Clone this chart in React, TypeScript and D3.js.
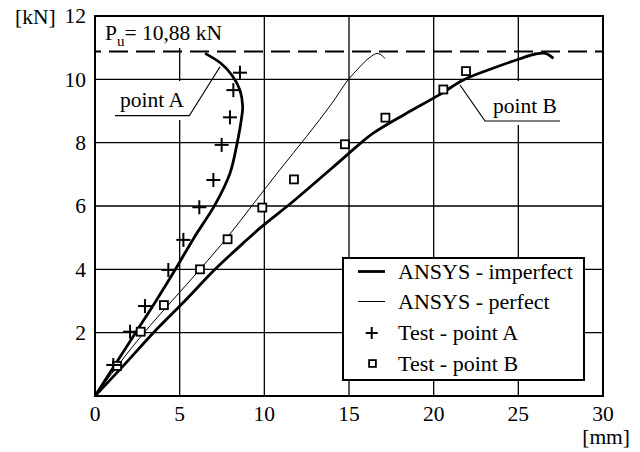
import React from "react";
import * as d3 from "d3";

// ---- data ----
const xTicks = [0, 5, 10, 15, 20, 25, 30];
const yTicks = [2, 4, 6, 8, 10, 12];
const xGrid = [5, 10, 15, 20, 25];
const yGrid = [2, 4, 6, 8, 10];
const ultimateLoad = 10.88;

// ANSYS - imperfect, point A branch
const impA_x = [0, 1.2, 2.4, 3.6, 4.75, 5.85, 7.1, 7.97, 8.4, 8.66, 8.72, 8.56, 8.1, 7.45, 6.5];
const impA_y = [0, 1.0, 2.0, 3.0, 4.0, 5.0, 6.05, 7.03, 8.0, 8.8, 9.15, 9.66, 10.12, 10.5, 10.82];

// ANSYS - imperfect, point B branch
const impB_x = [0, 1.75, 3.45, 5.3, 7.09, 8.9, 9.74, 11.8, 14.0, 15.5, 16.43, 18.3, 20.3, 21.75, 23.5, 25.1, 26.0, 26.6, 27.07];
const impB_y = [0, 1.0, 2.0, 3.0, 4.0, 4.9, 5.3, 6.19, 7.2, 7.9, 8.3, 8.9, 9.5, 9.98, 10.35, 10.65, 10.8, 10.82, 10.66];

// ANSYS - perfect
const perf_x = [0, 1.4, 2.9, 6.2, 7.8, 9.4, 11.0, 12.5, 14.0, 14.9, 15.65, 16.2, 16.7, 17.13];
const perf_y = [0, 1.0, 2.0, 4.0, 5.0, 6.1, 7.2, 8.2, 9.25, 9.95, 10.4, 10.68, 10.82, 10.66];

// Test - point A
const testA_x = [1.08, 2.07, 2.95, 4.33, 5.22, 6.16, 6.99, 7.48, 7.97, 8.17, 8.56];
const testA_y = [0.98, 2.03, 2.84, 3.98, 4.93, 5.96, 6.82, 7.93, 8.8, 9.66, 10.21];

// Test - point B
const testB_x = [1.3, 2.7, 4.07, 6.2, 7.83, 9.88, 11.75, 14.76, 17.15, 20.57, 21.91];
const testB_y = [0.95, 2.03, 2.87, 4.0, 4.95, 5.95, 6.84, 7.95, 8.79, 9.68, 10.26];

const legendLabels = ["ANSYS - imperfect", "ANSYS - perfect", "Test - point A", "Test - point B"];

const W = 640;
const H = 452;
const FONT = '"Liberation Serif", serif';

export default function App() {
  const x = d3.scaleLinear().domain([0, 30]).range([95, 603]);
  const y = d3.scaleLinear().domain([0, 12]).range([396, 16]);
  const line = d3
    .line<[number, number]>()
    .x((d) => x(d[0]))
    .y((d) => y(d[1]))
    .curve(d3.curveCatmullRom.alpha(0.5));

  const zip = (a: number[], b: number[]) => a.map((v, i) => [v, b[i]] as [number, number]);
  const pA = line(zip(impA_x, impA_y)) || "";
  const pB = line(zip(impB_x, impB_y)) || "";
  const pP = line(zip(perf_x, perf_y)) || "";

  const [x0, x1] = x.range();
  const [y0, y1] = y.range();
  const fs = 21.5;
  const ts = { fontFamily: FONT };

  const cross = (cx: number, cy: number, key: string | number, s = 7) => (
    <g key={key} stroke="#000" strokeWidth={2}>
      <line x1={cx - s} x2={cx + s} y1={cy} y2={cy} />
      <line x1={cx} x2={cx} y1={cy - s} y2={cy + s} />
    </g>
  );
  const square = (cx: number, cy: number, key: string | number, s = 4) => (
    <rect key={key} x={cx - s} y={cy - s} width={2 * s} height={2 * s} fill="#fff" stroke="#000" strokeWidth={1.8} />
  );

  const legX = 343, legY = 258, legW = 241, legH = 122;
  const rowsY = [271.5, 301.5, 333, 363.5];

  return (
    <svg
      width={W}
      height={H}
      viewBox={`0 0 ${W} ${H}`}
      style={{ position: "absolute", left: 0, top: 0, display: "block", background: "#fff", fontFamily: FONT }}
    >
      <rect x={0} y={0} width={W} height={H} fill="#fff" />
      {/* grid */}
      <g stroke="#000" strokeWidth={1.3}>
        {xGrid.map((v) => (
          <line key={"gx" + v} x1={x(v)} x2={x(v)} y1={y1} y2={y0} />
        ))}
        {yGrid.map((v) => (
          <line key={"gy" + v} x1={x0} x2={x1} y1={y(v)} y2={y(v)} />
        ))}
      </g>
      {/* label masks */}
      <rect x={97} y={17} width={135} height={31} fill="#fff" />
      <rect x={112} y={81} width={80} height={39} fill="#fff" />
      <rect x={483} y={81} width={80} height={44} fill="#fff" />
      {/* ultimate load */}
      <line
        x1={x0}
        x2={x1}
        y1={y(ultimateLoad)}
        y2={y(ultimateLoad)}
        stroke="#000"
        strokeWidth={2}
        strokeDasharray="19 8"
        strokeDashoffset={13}
      />
      {/* curves */}
      <path d={pP} fill="none" stroke="#000" strokeWidth={1} />
      <path d={pA} fill="none" stroke="#000" strokeWidth={2.8} />
      <path d={pB} fill="none" stroke="#000" strokeWidth={2.8} />
      {/* tests */}
      {testB_x.map((v, i) => square(x(v), y(testB_y[i]), "b" + i))}
      {testA_x.map((v, i) => cross(x(v), y(testA_y[i]), "a" + i))}
      {/* frame */}
      <rect x={x0} y={y1} width={x1 - x0} height={y0 - y1} fill="none" stroke="#000" strokeWidth={2} />
      {/* tick labels */}
      <g fontSize={fs} fill="#000">
        {yTicks.map((v) => (
          <text key={"ty" + v} style={ts} x={86} y={y(v)} dy="0.34em" textAnchor="end">
            {v}
          </text>
        ))}
        {xTicks.map((v) => (
          <text key={"tx" + v} style={ts} x={x(v)} y={421} textAnchor="middle">
            {v}
          </text>
        ))}
        <text style={ts} x={15} y={24}>[kN]</text>
        <text style={ts} x={630} y={444} textAnchor="end">[mm]</text>
        <text style={ts} x={105} y={40}>
          P<tspan fontSize={15} dy={6}>u</tspan>
          <tspan dy={-6}>= 10,88 kN</tspan>
        </text>
        <text style={ts} x={120} y={107}>point A</text>
        <text style={ts} x={493} y={113}>point B</text>
      </g>
      <g stroke="#000" strokeWidth={1.2} fill="none">
        <polyline points={`115,115.7 189.3,115.7 220,66.7`} />
        <polyline points={`560,121 485,121 460,85`} />
      </g>
      {/* legend */}
      <rect x={legX} y={legY} width={legW} height={legH} fill="#fff" stroke="#000" strokeWidth={2} />
      <line x1={358} x2={385} y1={rowsY[0]} y2={rowsY[0]} stroke="#000" strokeWidth={2.8} />
      <line x1={358} x2={385} y1={rowsY[1]} y2={rowsY[1]} stroke="#000" strokeWidth={1} />
      {cross(371.7, rowsY[2], "lc", 6)}
      {square(372.5, rowsY[3], "ls", 3.4)}
      <g fontSize={22} fill="#000">
        {legendLabels.map((t, i) => (
          <text key={t} style={ts} x={398} y={rowsY[i]} dy="0.34em">
            {t}
          </text>
        ))}
      </g>
    </svg>
  );
}
